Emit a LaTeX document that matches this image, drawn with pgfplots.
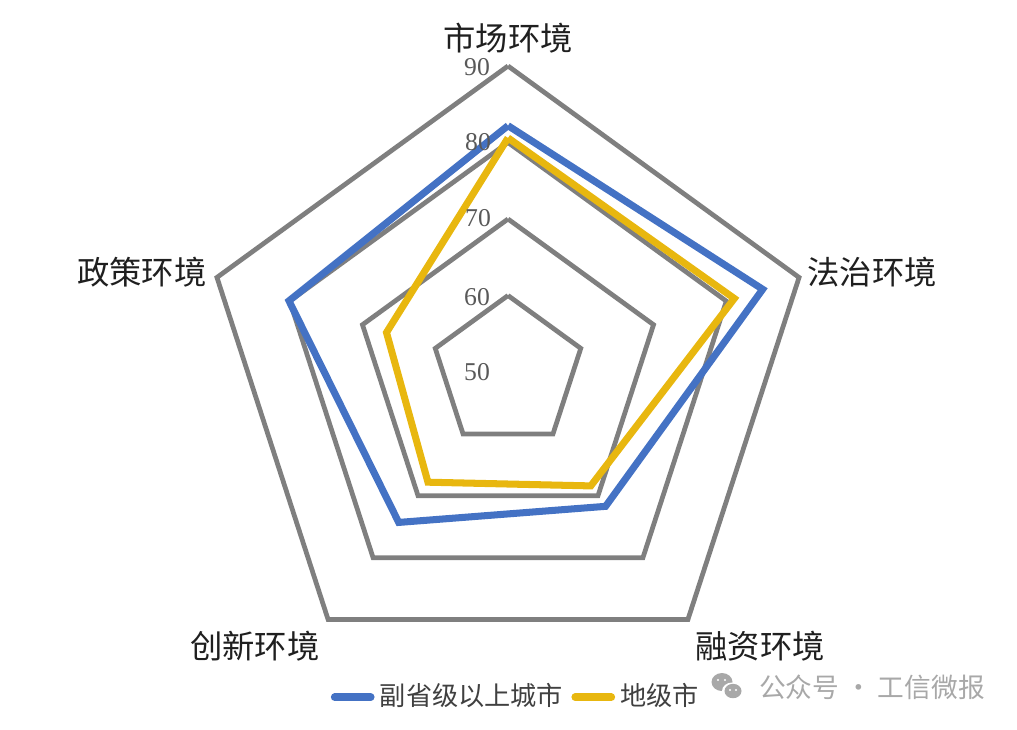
\documentclass[border=0pt]{standalone}
\usepackage{pgfplots}
\pgfplotsset{compat=1.18}
\usepackage{pgfplotstable}
\usepackage{fontspec}
\setmainfont{Liberation Serif}
\newfontfamily\cjk{Noto Sans CJK SC}
\definecolor{sblue}{HTML}{4472C4}
\definecolor{syellow}{HTML}{E8B70F}
\definecolor{sgray}{HTML}{7F7F7F}
\definecolor{wm}{HTML}{A8A8A8}

% angle (deg) and value; centre of the chart = 50, outer ring = 90
\pgfplotstableread{
angle v
90 82.2
18 85.0
-54 71.7
-126 74.3
162 80.1
90 82.2
}\blueseries
\pgfplotstableread{
angle v
90 80.6
18 81.1
-54 68.4
-126 67.8
162 66.7
90 80.6
}\yellowseries
\pgfplotstableread{
angle r
90 1
18 1
-54 1
-126 1
162 1
90 1
}\ring

\begin{document}
\begin{tikzpicture}
\useasboundingbox (-5.08,-3.57) rectangle (5.09,3.72);
\begin{axis}[
  hide axis,
  at={(0,0)}, anchor=origin,
  x=0.0765cm, y=0.0765cm,
  xmin=-66.4, xmax=66.5, ymin=-46.7, ymax=48.6,
  clip=false,
  data cs=polar,
  legend columns=2,
  legend style={at={(0.509,0.044)}, anchor=center, draw=none, fill=none,
    font=\cjk\fontsize{7.45}{8}\selectfont, text=black!75,
    nodes={inner xsep=1.5pt, inner ysep=1pt},
    /tikz/every even column/.append style={column sep=0.03cm},
    inner sep=0pt},
  legend image code/.code={\draw[#1, line width=2.2pt, line cap=round] (0cm,0cm) -- (0.36cm,0cm);},
]
\foreach \k in {10,20,30,40} {
  \edef\tmp{\noexpand\addplot[sgray, line width=1.35pt, line join=miter, forget plot] table[x=angle, y expr=\noexpand\thisrow{r}*\k] \noexpand\ring;}
  \tmp
}
\addplot[sblue, line width=2.0pt, line join=miter] table[x=angle, y expr=\thisrow{v}-50] \blueseries;
\addlegendentry{副省级以上城市}
\addplot[syellow, line width=2.0pt, line join=miter] table[x=angle, y expr=\thisrow{v}-50] \yellowseries;
\addlegendentry{地级市}
\end{axis}

% radial tick labels
\begin{scope}[every node/.style={text=black!65, font=\fontsize{7.3}{8}\selectfont}]
\node at (-0.31,3.05) {90};
\node at (-0.30,2.30) {80};
\node at (-0.30,1.54) {70};
\node at (-0.31,0.75) {60};
\node at (-0.31,0.00) {50};
\end{scope}

% category labels
\begin{scope}[every node/.style={text=black!88, font=\cjk\fontsize{9.2}{10}\selectfont}]
\node at (0,3.34) {市场环境};
\node at (3.64,1.00) {法治环境};
\node at (2.52,-2.74) {融资环境};
\node at (-2.53,-2.74) {创新环境};
\node at (-3.66,1.00) {政策环境};
\end{scope}

% watermark
\fill[wm] (2.14,-3.10) ellipse (0.105 and 0.09);
\fill[white] (2.24,-3.19) ellipse (0.10 and 0.085);
\fill[wm] (2.25,-3.19) ellipse (0.085 and 0.072);
\fill[white] (2.10,-3.08) circle (0.012) (2.17,-3.08) circle (0.012) (2.22,-3.18) circle (0.011) (2.28,-3.18) circle (0.011);
\node[text=wm, font=\cjk\fontsize{7.6}{8}\selectfont] at (3.64,-3.15) {公众号 · 工信微报};
\end{tikzpicture}
\end{document}
